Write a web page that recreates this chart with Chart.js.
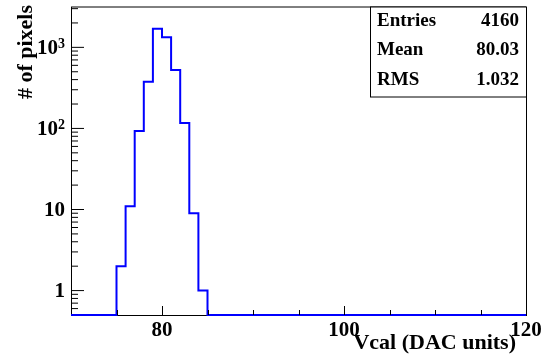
<!DOCTYPE html>
<html>
<head>
<meta charset="utf-8">
<script src="https://cdn.jsdelivr.net/npm/chart.js@4.4.1/dist/chart.umd.min.js"></script>
<style>
  html, body { margin: 0; padding: 0; background: #fff; }
  canvas { display: block; }
</style>
</head>
<body>
<canvas id="hist" width="543" height="355"></canvas>
<script>
// Vcal threshold distribution, one bin per DAC unit
const binLowEdges = [75, 76, 77, 78, 79, 80, 81, 82, 83, 84];
const binCounts = [2, 11, 93, 376, 1690, 1330, 525, 117, 9, 1];
const binWidth = 1;

const xRange = [70, 120];
const yRange = [0.5, 3145];
const xTickValues = [80, 100, 120];
const yTickValues = [1, 10, 100, 1000];
// [mantissa, exponent] for each y label
const yTickLabels = [['1', ''], ['10', ''], ['10', '2'], ['10', '3']];

const statsLabels = ['Entries', 'Mean', 'RMS'];
const statsValues = ['4160', '80.03', '1.032'];

const FONT = "'Liberation Serif', 'Times New Roman', serif";

// outline of the histogram; empty bins sit on the lower edge of the axis
const points = [{ x: xRange[0], y: yRange[0] }];
binLowEdges.forEach((edge, i) => points.push({ x: edge, y: binCounts[i] }));
points.push({ x: binLowEdges[binLowEdges.length - 1] + binWidth, y: yRange[0] });
points.push({ x: xRange[1], y: yRange[0] });

const frameDecor = {
  id: 'frameDecor',
  afterDatasetsDraw(chart) {
    const { ctx, chartArea: a, scales } = chart;
    const xs = scales.x, ys = scales.y;
    ctx.save();
    ctx.strokeStyle = '#000';
    ctx.lineWidth = 1;

    // top and right sides of the frame
    ctx.beginPath();
    ctx.moveTo(a.left, 7);
    ctx.lineTo(a.right, 7);
    ctx.moveTo(a.right + 0.5, a.top);
    ctx.lineTo(a.right + 0.5, a.bottom);
    ctx.stroke();

    // x ticks, pointing into the frame
    ctx.beginPath();
    for (let v = xRange[0] + 5; v < xRange[1]; v += 5) {
      const px = Math.round(xs.getPixelForValue(v)) + 0.5;
      const len = v % 20 === 0 ? 9 : 5;
      ctx.moveTo(px, a.bottom);
      ctx.lineTo(px, a.bottom - len);
    }
    // y ticks on a log axis
    const d0 = Math.floor(Math.log10(yRange[0]));
    const d1 = Math.ceil(Math.log10(yRange[1]));
    for (let d = d0; d <= d1; d++) {
      for (let m = 1; m <= 9; m++) {
        const v = m * Math.pow(10, d);
        if (v <= yRange[0] || v >= yRange[1]) continue;
        const py = ys.getPixelForValue(v);
        const len = m === 1 ? 13 : 7;
        ctx.moveTo(a.left, py);
        ctx.lineTo(a.left + len, py);
      }
    }
    ctx.stroke();

    // tick labels
    ctx.fillStyle = '#000';
    ctx.font = 'bold 21px ' + FONT;
    ctx.textAlign = 'center';
    ctx.textBaseline = 'alphabetic';
    xTickValues.forEach(v => {
      ctx.fillText(String(v), xs.getPixelForValue(v), 336);
    });
    yTickValues.forEach((v, i) => {
      const py = ys.getPixelForValue(v);
      const [base, exp] = yTickLabels[i];
      let right = a.left - 6;
      if (exp) {
        ctx.font = 'bold 14px ' + FONT;
        ctx.textAlign = 'right';
        ctx.textBaseline = 'alphabetic';
        ctx.fillText(exp, right, py + 1);
        right -= ctx.measureText(exp).width;
      }
      ctx.font = 'bold 21px ' + FONT;
      ctx.textAlign = 'right';
      ctx.textBaseline = 'middle';
      ctx.fillText(base, right, py + 1);
    });

    // statistics box
    const bx = 370, by = 7, bw = a.right - 370, bh = 90;
    ctx.fillStyle = '#fff';
    ctx.fillRect(bx, by, bw, bh);
    ctx.strokeRect(Math.round(bx) + 0.5, by, bw, bh);
    ctx.fillStyle = '#000';
    ctx.font = 'bold 19px ' + FONT;
    ctx.textBaseline = 'middle';
    statsLabels.forEach((label, i) => {
      const ty = by + 14 + i * 29.5;
      ctx.textAlign = 'left';
      ctx.fillText(label, bx + 7, ty);
      ctx.textAlign = 'right';
      ctx.fillText(statsValues[i], a.right - 7, ty);
    });

    // axis titles
    ctx.font = 'bold 22px ' + FONT;
    ctx.textAlign = 'right';
    ctx.textBaseline = 'alphabetic';
    ctx.fillText('Vcal (DAC units)', 516, 349);

    ctx.translate(32, 5);
    ctx.rotate(-Math.PI / 2);
    ctx.textAlign = 'right';
    ctx.fillText('# of pixels', 0, 0);
    ctx.restore();
  }
};

new Chart(document.getElementById('hist'), {
  type: 'line',
  data: {
    datasets: [{
      data: points,
      stepped: 'before',
      borderColor: '#0000ff',
      borderWidth: 2,
      pointRadius: 0,
      fill: false,
      clip: false
    }]
  },
  options: {
    responsive: false,
    animation: false,
    devicePixelRatio: 1,
    layout: { padding: { left: 0, right: 17, top: 7, bottom: 0 } },
    plugins: {
      legend: { display: false },
      tooltip: { enabled: false }
    },
    scales: {
      x: {
        type: 'linear',
        min: xRange[0],
        max: xRange[1],
        afterFit: s => { s.height = 40; },
        afterBuildTicks: s => { s.ticks = xTickValues.map(v => ({ value: v })); },
        grid: { display: false },
        border: { display: true, color: '#000', width: 1 },
        ticks: { display: false }
      },
      y: {
        type: 'logarithmic',
        min: yRange[0],
        max: yRange[1],
        afterFit: s => { s.width = 71; },
        afterBuildTicks: s => { s.ticks = yTickValues.map(v => ({ value: v })); },
        grid: { display: false },
        border: { display: true, color: '#000', width: 1 },
        ticks: { display: false }
      }
    }
  },
  plugins: [frameDecor]
});
</script>
</body>
</html>
